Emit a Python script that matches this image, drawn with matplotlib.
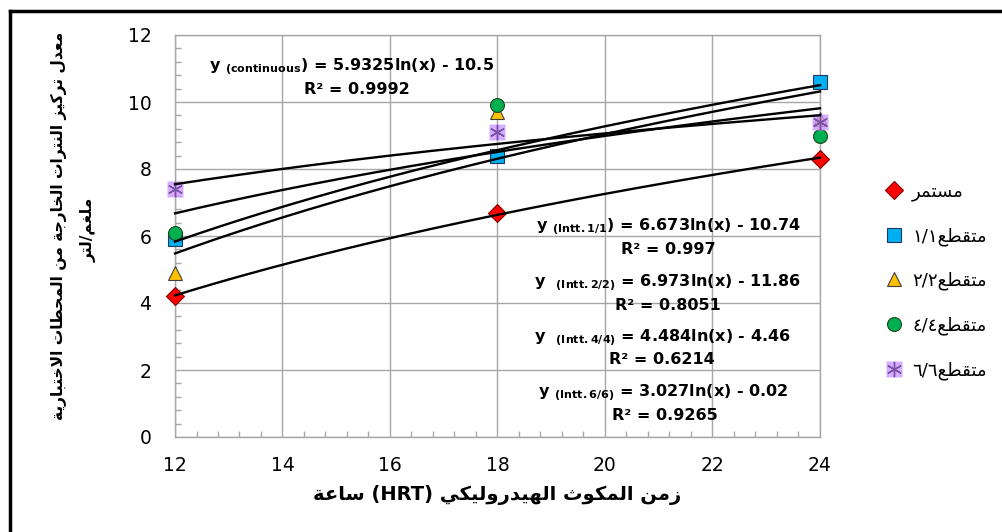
import numpy as np
import matplotlib
matplotlib.use('Agg')
import matplotlib.pyplot as plt
from matplotlib.lines import Line2D
from matplotlib.ticker import MultipleLocator

plt.rcParams['font.family'] = ['DejaVu Sans']
plt.rcParams['mathtext.fontset'] = 'dejavusans'

# data
hrt = [12, 18, 24]
continuous = [4.2, 6.7, 8.3]
intt_1 = [5.9, 8.4, 10.6]
intt_2 = [4.9, 9.7, 9.5]
intt_4 = [6.1, 9.9, 9.0]
intt_6 = [7.4, 9.1, 9.4]

legend_labels = ['مستمر', 'متقطع١/١', 'متقطع٢/٢', 'متقطع٤/٤', 'متقطع٦/٦']
eq_labels = [r'y $_{\mathbf{(continuous}}$) = 5.9325ln(x) - 10.5',
             r'y $_{\mathbf{(Intt.1/1}}$) = 6.673ln(x) - 10.74',
             r'y  $_{\mathbf{(Intt.2/2)}}$ = 6.973ln(x) - 11.86',
             r'y  $_{\mathbf{(Intt.4/4)}}$ = 4.484ln(x) - 4.46',
             r'y $_{\mathbf{(Intt.6/6)}}$ = 3.027ln(x) - 0.02']
r2_labels = ['R² = 0.9992', 'R² = 0.997', 'R² = 0.8051', 'R² = 0.6214', 'R² = 0.9265']
xlabel_txt = 'زمن المكوث الهيدروليكي (HRT) ساعة'
ylabel_txt = ['معدل تركيز النترات الخارجة من المحطات الاختبارية', 'ملغم/لتر']

# minimal arabic shaping (matplotlib has no bidi / joining)
FORMS = {'ا': (0xFE8D, 2), 'ب': (0xFE8F, 4), 'ة': (0xFE93, 2), 'ت': (0xFE95, 4),
         'ث': (0xFE99, 4), 'ج': (0xFE9D, 4), 'ح': (0xFEA1, 4), 'خ': (0xFEA5, 4),
         'د': (0xFEA9, 2), 'ر': (0xFEAD, 2), 'ز': (0xFEAF, 2), 'س': (0xFEB1, 4),
         'ط': (0xFEC1, 4), 'ع': (0xFEC9, 4), 'غ': (0xFECD, 4), 'ق': (0xFED5, 4),
         'ك': (0xFED9, 4), 'ل': (0xFEDD, 4), 'م': (0xFEE1, 4), 'ن': (0xFEE5, 4),
         'ه': (0xFEE9, 4), 'و': (0xFEED, 2), 'ي': (0xFEF1, 4)}


def joins_left(c):
    return c in FORMS and FORMS[c][1] == 4


def shape_word(w):
    res = []
    i = 0
    while i < len(w):
        c = w[i]
        prev = w[i - 1] if i > 0 else None
        nxt = w[i + 1] if i + 1 < len(w) else None
        if c == 'ل' and nxt == 'ا':
            res.append(chr(0xFEFC if joins_left(prev) else 0xFEFB))
            i += 2
            continue
        base, k = FORMS[c]
        a = joins_left(prev)
        b = k == 4 and nxt in FORMS
        if a and b:
            res.append(chr(base + 3))
        elif a:
            res.append(chr(base + 1))
        elif b:
            res.append(chr(base + 2))
        else:
            res.append(chr(base))
        i += 1
    return ''.join(reversed(res))


def ar(text):
    tokens = []
    for tok in text.split(' '):
        segs, cur, cur_ar = [], '', None
        for c in tok:
            is_ar = c in FORMS
            if cur and is_ar != cur_ar:
                segs.append((cur, cur_ar))
                cur = ''
            cur += c
            cur_ar = is_ar
        if cur:
            segs.append((cur, cur_ar))
        if any(s[1] for s in segs):
            tokens.append(''.join(shape_word(s) if isa else s for s, isa in reversed(segs)))
        else:
            tokens.append(tok)
    return ' '.join(reversed(tokens))


fig = plt.figure(figsize=(10.03, 5.32), dpi=100)
ax = fig.add_axes([175 / 1003, 1 - 437 / 532, 645 / 1003, 402 / 532])

series = [continuous, intt_1, intt_2, intt_4, intt_6]
styles = [dict(marker='D', ms=9, mfc='#FF0000', mec='#800000'),
          dict(marker='s', ms=10, mfc='#00B0F0', mec='#1F3864'),
          dict(marker='^', ms=10, mfc='#FFC000', mec='#404040'),
          dict(marker='o', ms=10, mfc='#00B050', mec='#1E4620'),
          dict(marker='s', ms=11, mfc='#CC99FF', mec='none', alpha=0.8)]

handles = []
for ys, st, lab in zip(series, styles, legend_labels):
    h, = ax.plot(hrt, ys, ls='none', mew=0.8, zorder=3, clip_on=False, **st)
    handles.append(h)
star, = ax.plot(hrt, intt_6, ls='none', marker=(6, 2, 0), ms=11, mec='#7A4FA8', mew=1.0,
                zorder=3, clip_on=False)
handles[-1] = (handles[-1], star)

# logarithmic trendlines fitted to each series
xx = np.linspace(hrt[0], hrt[-1], 200)
for ys in series:
    k, b = np.polyfit(np.log(hrt), ys, 1)
    ax.plot(xx, k * np.log(xx) + b, color='black', lw=1.7, zorder=4, clip_on=False)

ax.set_xlim(12, 24)
ax.set_ylim(0, 12)
ax.xaxis.set_major_locator(MultipleLocator(2))
ax.yaxis.set_major_locator(MultipleLocator(2))
ax.xaxis.set_minor_locator(MultipleLocator(0.4))
ax.yaxis.set_minor_locator(MultipleLocator(0.4))
ax.grid(True, which='major', color='#a6a6a6', lw=1.0)
ax.set_axisbelow(True)
for sp in ax.spines.values():
    sp.set_color('#a6a6a6')
    sp.set_linewidth(1.0)
ax.tick_params(which='major', length=0, labelsize=13.5, colors='#a6a6a6', labelcolor='black')
ax.tick_params(axis='y', which='major', pad=17)
ax.tick_params(axis='x', which='major', pad=14)
ax.tick_params(which='minor', direction='in', length=4, color='#a6a6a6', width=1.0)

# equations
eq_pos = [(352, 67), (668, 227), (668, 283), (662, 338), (663, 393)]
r2_pos = [(357, 89), (668, 249), (668, 305), (662, 359), (665, 415)]
for t, (x, y) in zip(eq_labels, eq_pos):
    fig.text(x / 1003, 1 - y / 532, t, ha='center', va='center', fontsize=11.5, fontweight='bold')
for t, (x, y) in zip(r2_labels, r2_pos):
    fig.text(x / 1003, 1 - y / 532, t, ha='center', va='center', fontsize=11.5, fontweight='bold')

# axis titles
fig.text(497 / 1003, 1 - 495 / 532, ar(xlabel_txt), ha='center', va='center',
         fontsize=14, fontweight='bold')
fig.text(59 / 1003, 1 - 226 / 532, ar(ylabel_txt[0]), rotation=90, ha='center', va='center',
         fontsize=11.2, fontweight='bold')
fig.text(89 / 1003, 1 - 230 / 532, ar(ylabel_txt[1]), rotation=90, ha='center', va='center',
         fontsize=11.2, fontweight='bold')

leg = fig.legend(handles, [ar(t) for t in legend_labels], loc='center left',
                 bbox_to_anchor=(876 / 1003, 1 - 281 / 532), frameon=False, fontsize=13,
                 handlelength=1.0, handletextpad=0.5, labelspacing=1.45, borderpad=0)

# outer frame (only left and top edges are inside the picture)
fig.add_artist(Line2D([10 / 1003, 10 / 1003], [0, 1 - 11 / 532], color='black', lw=2.5))
fig.add_artist(Line2D([10 / 1003, 1], [1 - 11 / 532, 1 - 11 / 532], color='black', lw=2.5))

fig.savefig('out.png', dpi=100, facecolor='white')
